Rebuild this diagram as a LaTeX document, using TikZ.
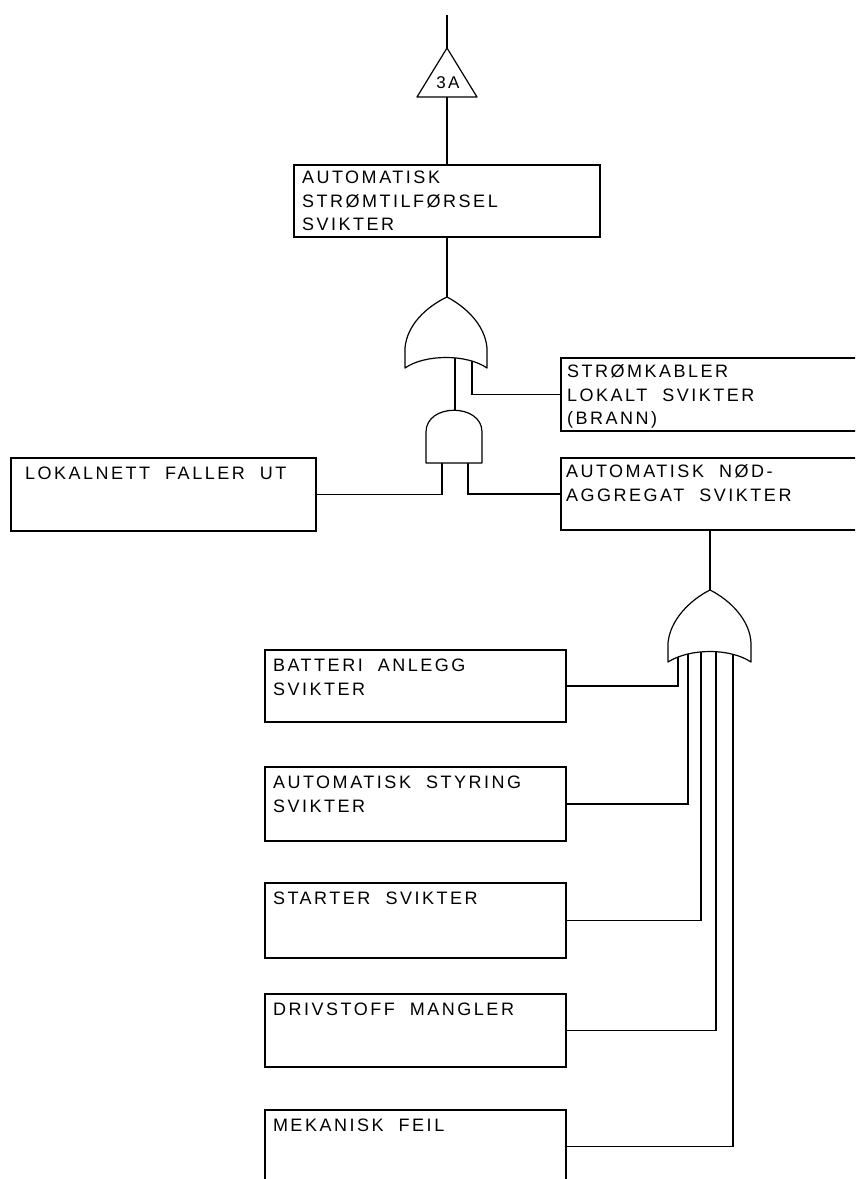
\documentclass[tikz,border=0pt]{standalone}
\usepackage{fontspec}
\setmainfont{Liberation Sans}[LetterSpace=14,WordSpace=2]
\begin{document}
\begin{tikzpicture}[x=1pt,y=-1pt, line width=1.2pt,
  box/.style={draw, rectangle, inner sep=0pt},
  txt/.style={anchor=north west, inner sep=0pt, align=left, font=\fontsize{18}{23.5}\selectfont},
  gate/.style={draw, fill=white, line join=round}]
\useasboundingbox (0,0) rectangle (855,1179);
\clip (0,0) rectangle (855,1179);

% boxes
\node[box, minimum width=306pt, minimum height=72pt] (b1) at (447,201) {};
\node[box, minimum width=309pt, minimum height=73pt] (b2) at (715.5,394.5) {};
\node[box, minimum width=309pt, minimum height=72pt] (b3) at (715.5,494) {};
\node[box, minimum width=305pt, minimum height=73pt] (b4) at (163.5,494.5) {};
\node[box, minimum width=301pt, minimum height=72pt] (b5) at (415.5,686) {};
\node[box, minimum width=301pt, minimum height=74pt] (b6) at (415.5,804) {};
\node[box, minimum width=301pt, minimum height=75pt] (b7) at (415.5,920.5) {};
\node[box, minimum width=301pt, minimum height=73pt] (b8) at (415.5,1030.5) {};
\node[box, minimum width=301pt, minimum height=73pt] (b9) at (415.5,1146.5) {};

% texts
\node[txt] (t1) at ([xshift=8pt,yshift=-6pt]b1.north west) {AUTOMATISK\\STRØMTILFØRSEL\\SVIKTER};
\node[txt] (t2) at ([xshift=6pt,yshift=-7pt]b2.north west) {STRØMKABLER\\LOKALT SVIKTER\\(BRANN)};
\node[txt] (t3) at ([xshift=5pt,yshift=-7pt]b3.north west) {AUTOMATISK NØD-\\AGGREGAT SVIKTER};
\node[txt] (t4) at ([xshift=14pt,yshift=-9pt]b4.north west) {LOKALNETT FALLER UT};
\node[txt] (t5) at ([xshift=8pt,yshift=-9pt]b5.north west) {BATTERI ANLEGG\\SVIKTER};
\node[txt] (t6) at ([xshift=8pt,yshift=-9pt]b6.north west) {AUTOMATISK STYRING\\SVIKTER};
\node[txt] (t7) at ([xshift=8pt,yshift=-9pt]b7.north west) {STARTER SVIKTER};
\node[txt] (t8) at ([xshift=8pt,yshift=-9pt]b8.north west) {DRIVSTOFF MANGLER};
\node[txt] (t9) at ([xshift=8pt,yshift=-9pt]b9.north west) {MEKANISK FEIL};

% transfer triangle
\coordinate (topend) at (447,15);
\coordinate (triA) at (447,48);
\coordinate (triL) at (417,97);
\coordinate (triR) at (477,97);
\coordinate (triB) at (447,97);
\draw[line join=round] (triA) -- (triR) -- (triL) -- cycle;
\node[inner sep=0pt, font=\fontsize{17}{17}\selectfont] (tri) at (448,83) {3A};
\draw (topend) -- (triA);
\draw (triB) -- (b1.north);

% gate coordinates
\coordinate (or1out) at (447,297);
\coordinate (or1inL) at (455,350);
\coordinate (or1inR) at (472,350);
\coordinate (andout) at (455,415);
\coordinate (andinL) at (442,455);
\coordinate (andinR) at (468,455);
\coordinate (or2out) at (710,590);
\coordinate (or2in1) at (678,648);
\coordinate (or2in2) at (688,648);
\coordinate (or2in3) at (701,648);
\coordinate (or2in4) at (716,648);
\coordinate (or2in5) at (733,648);

% connectors
\draw (b1.south) -- (or1out);
\draw (or1inL) -- (andout);
\draw (or1inR) |- (b2.west);
\draw (andinL) |- (b4.east);
\draw (andinR) |- (b3.west);
\draw (b3.south -| or2out) -- (or2out);
\draw (or2in1) |- (b5.east);
\draw (or2in2) |- (b6.east);
\draw (or2in3) |- (b7.east);
\draw (or2in4) |- (b8.east);
\draw (or2in5) |- (b9.east);

% gates
\draw[gate] (or1out) .. controls (426,307) and (407,325) .. (405,348) -- (405,368)
  .. controls (425,354) and (467,354) .. (487,368) -- (487,348)
  .. controls (485,325) and (466,307) .. (or1out) -- cycle;
\draw[gate] (426,463) -- (426,432) .. controls (426,403) and (482,403) .. (482,432) -- (482,463) -- cycle;
\draw[gate] (or2out) .. controls (690,600) and (670,620) .. (668,643) -- (668,662)
  .. controls (690,648) and (730,648) .. (751,662) -- (751,643)
  .. controls (750,620) and (730,600) .. (or2out) -- cycle;
\end{tikzpicture}
\end{document}
